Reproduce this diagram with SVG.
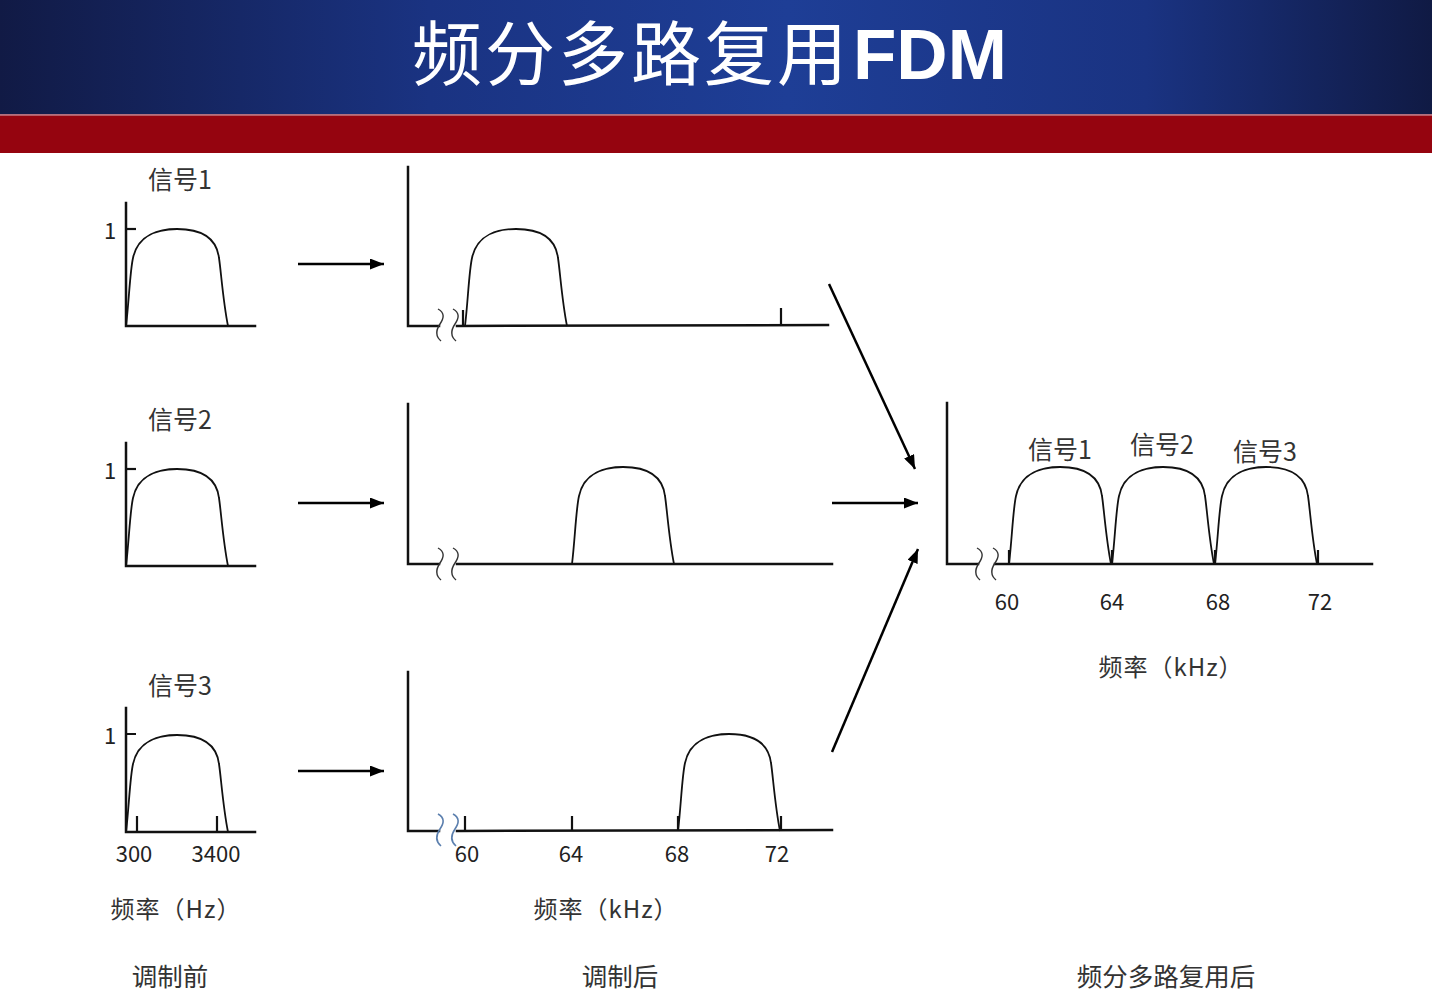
<svg xmlns="http://www.w3.org/2000/svg" width="1432" height="998" viewBox="0 0 1432 998">
  <style>
    .axis { fill: none; stroke: #111; stroke-width: 2.5; stroke-linecap: square; }
    .tick { fill: none; stroke: #111; stroke-width: 2.2; }
    .pulse { fill: none; stroke: #111; stroke-width: 1.8; }
    .brk { fill: none; stroke: #333; stroke-width: 1.4; }
    .brk-blue { fill: none; stroke: #5b7fae; stroke-width: 1.6; }
    .conn { fill: none; stroke: #000; stroke-width: 2.5; }
    .lbl { font-family: "Noto Sans CJK SC", "Noto Sans", sans-serif; fill: #333; }
    .sig { font-size: 25px; text-anchor: middle; }
    .num { font-size: 22px; text-anchor: middle; fill: #222; }
    .unit { font-size: 24px; text-anchor: middle; letter-spacing: 1px; }
    .cap { font-size: 25.5px; text-anchor: middle; }
  </style>
  <defs>
    <linearGradient id="hdr" x1="0" y1="0" x2="1" y2="0">
      <stop offset="0" stop-color="#111a45"/>
      <stop offset="0.3" stop-color="#1a3382"/>
      <stop offset="0.55" stop-color="#1e3e96"/>
      <stop offset="0.8" stop-color="#1a3382"/>
      <stop offset="1" stop-color="#101a44"/>
    </linearGradient>
    <!-- band-limited pulse, origin at its left foot on the baseline -->
    <path id="pulse" class="pulse" d="M0,0 C3,-25 4,-55 7,-68 C12,-92 34,-97 51,-97 C70,-97 90,-92 93,-68 C95,-55 97,-25 102,0"/>
    <!-- axis break mark -->
    <path id="brk" d="M0,0 C7,4 6,9 2,15 C-2,21 -3,27 3,32"/>
    <marker id="ah" markerUnits="userSpaceOnUse" markerWidth="15" markerHeight="11" refX="14" refY="5.5" orient="auto">
      <path d="M0,0 L14,5.5 L0,11 Z" fill="#000"/>
    </marker>
  </defs>

  <!-- title bar -->
  <g id="header">
    <rect x="0" y="0" width="1432" height="114" fill="url(#hdr)"/>
    <rect x="0" y="114" width="1432" height="1.5" fill="#b07080"/>
    <rect x="0" y="115.5" width="1432" height="37.5" fill="#95040f"/>
    <text x="412" y="80" font-family="Noto Sans CJK SC, sans-serif" font-size="70" letter-spacing="3" fill="#fff">频分多路复用</text>
    <text x="853" y="79" font-family="Liberation Sans, Arial, sans-serif" font-weight="bold" font-size="71" fill="#fff">FDM</text>
  </g>

  <!-- baseband spectra -->
  <g id="before-1">
    <text class="lbl sig" x="180" y="189">信号1</text>
    <path class="axis" d="M126,203 V326 H255"/>
    <path class="tick" d="M126,229 H136"/>
    <text class="lbl num" x="110" y="239">1</text>
    <use href="#pulse" x="126" y="326"/>
  </g>
  <g id="before-2">
    <text class="lbl sig" x="180" y="429">信号2</text>
    <path class="axis" d="M126,443 V566 H255"/>
    <path class="tick" d="M126,469 H136"/>
    <text class="lbl num" x="110" y="479">1</text>
    <use href="#pulse" x="126" y="566"/>
  </g>
  <g id="before-3">
    <text class="lbl sig" x="180" y="695">信号3</text>
    <path class="axis" d="M126,708 V832 H255"/>
    <path class="tick" d="M126,734 H136 M137,816 V832 M217,816 V832"/>
    <text class="lbl num" x="110" y="744">1</text>
    <use href="#pulse" x="126" y="832"/>
    <text class="lbl num" x="134" y="862">300</text>
    <text class="lbl num" x="216" y="862">3400</text>
    <text class="lbl unit" x="176" y="918">频率（Hz）</text>
    <text class="lbl cap" x="170" y="986">调制前</text>
  </g>

  <!-- modulated spectra -->
  <g id="after-1">
    <path class="axis" d="M408,167 V326 H439"/>
    <path class="axis" d="M457,326 L828,325"/>
    <use href="#brk" class="brk" x="438" y="309"/>
    <use href="#brk" class="brk" x="453" y="309"/>
    <path class="tick" d="M463,310 V326 M781,308 V325"/>
    <use href="#pulse" x="465" y="326"/>
  </g>
  <g id="after-2">
    <path class="axis" d="M408,404 V564 H439"/>
    <path class="axis" d="M457,564 L832,564"/>
    <use href="#brk" class="brk" x="438" y="548"/>
    <use href="#brk" class="brk" x="453" y="548"/>
    <use href="#pulse" x="572" y="564"/>
  </g>
  <g id="after-3">
    <path class="axis" d="M408,672 V831 H439"/>
    <path class="axis" d="M457,831 L832,830"/>
    <use href="#brk" class="brk-blue" x="438" y="814"/>
    <use href="#brk" class="brk-blue" x="453" y="814"/>
    <path class="tick" d="M465,816 V831 M572,816 V831 M678,816 V831 M781,816 V830"/>
    <use href="#pulse" x="678" y="831"/>
    <text class="lbl num" x="467" y="862">60</text>
    <text class="lbl num" x="571" y="862">64</text>
    <text class="lbl num" x="677" y="862">68</text>
    <text class="lbl num" x="777" y="862">72</text>
    <text class="lbl unit" x="606" y="918">频率（kHz）</text>
    <text class="lbl cap" x="620" y="986">调制后</text>
  </g>

  <!-- multiplexed spectrum -->
  <g id="multiplexed">
    <path class="axis" d="M947,403 V564 H978"/>
    <path class="axis" d="M995,564 H1372"/>
    <use href="#brk" class="brk" x="977" y="548"/>
    <use href="#brk" class="brk" x="993" y="548"/>
    <path class="tick" d="M1009,550 V564 M1112,550 V564 M1215,550 V564 M1318,550 V564"/>
    <use href="#pulse" x="1009" y="564"/>
    <use href="#pulse" x="1112" y="564"/>
    <use href="#pulse" x="1215" y="564"/>
    <text class="lbl sig" x="1060" y="459">信号1</text>
    <text class="lbl sig" x="1162" y="454">信号2</text>
    <text class="lbl sig" x="1265" y="461">信号3</text>
    <text class="lbl num" x="1007" y="610">60</text>
    <text class="lbl num" x="1112" y="610">64</text>
    <text class="lbl num" x="1218" y="610">68</text>
    <text class="lbl num" x="1320" y="610">72</text>
    <text class="lbl unit" x="1171" y="676">频率（kHz）</text>
    <text class="lbl cap" x="1166" y="986">频分多路复用后</text>
  </g>

  <!-- flow arrows -->
  <g id="connectors">
    <line class="conn" x1="298" y1="264" x2="384" y2="264" marker-end="url(#ah)"/>
    <line class="conn" x1="298" y1="503" x2="384" y2="503" marker-end="url(#ah)"/>
    <line class="conn" x1="298" y1="771" x2="384" y2="771" marker-end="url(#ah)"/>
    <line class="conn" x1="829" y1="284" x2="915" y2="469" marker-end="url(#ah)"/>
    <line class="conn" x1="832" y1="503" x2="918" y2="503" marker-end="url(#ah)"/>
    <line class="conn" x1="832" y1="752" x2="918" y2="549" marker-end="url(#ah)"/>
  </g>
</svg>
